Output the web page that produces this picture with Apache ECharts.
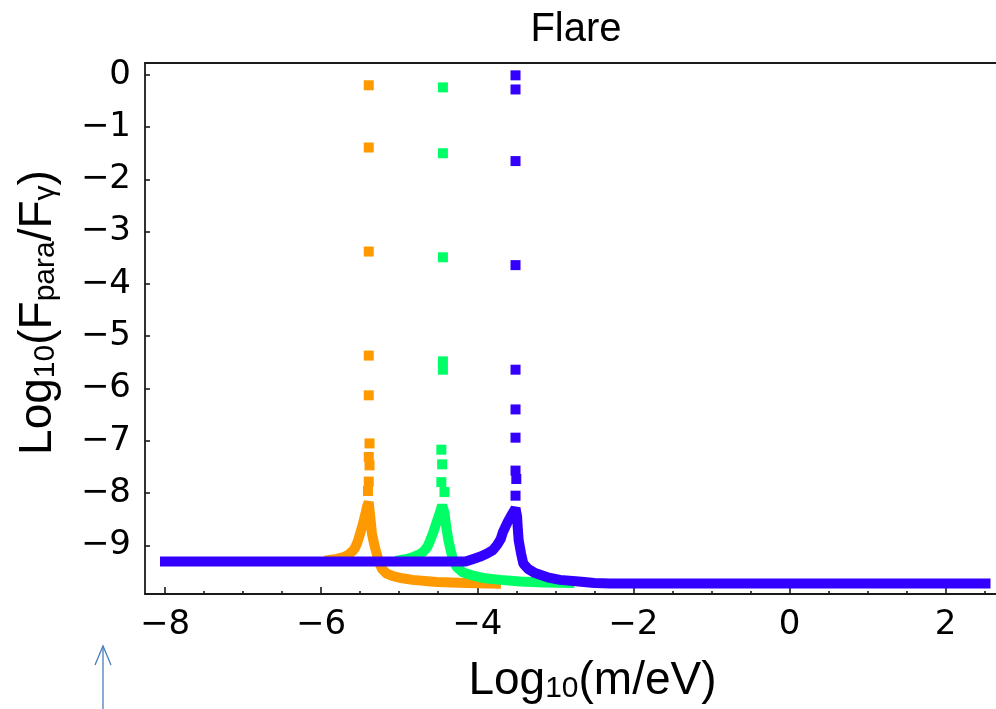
<!DOCTYPE html>
<html>
<head>
<meta charset="utf-8">
<script src="https://cdn.jsdelivr.net/npm/echarts@6/dist/echarts.min.js"></script>
<style>
  html, body { margin: 0; padding: 0; background: #fff; }
  #chart { width: 996px; height: 709px; }
</style>
</head>
<body>
<div id="chart"></div>
<script>
// ---- data ----
const xRange = [-8.256, 3.208];     // visible frame (right side cut off by the picture)
const xTickStart = -8;              // first labelled tick
const xTickEnd = 3;
const xMajorStep = 2;
const yRange = [-9.93, 0.226];
const yTicks = [0, -1, -2, -3, -4, -5, -6, -7, -8, -9];

// orange resonance (continuous band and isolated points)
const orangeBand = [
  [-5.89, -9.28], [-5.80, -9.26], [-5.72, -9.23], [-5.65, -9.18], [-5.59, -9.10], [-5.56, -9.03],
  [-5.53, -8.92], [-5.50, -8.77], [-5.47, -8.62], [-5.45, -8.50], [-5.43, -8.38], [-5.41, -8.25],
  [-5.39, -8.17], [-5.38, -8.33], [-5.36, -8.60], [-5.35, -8.77], [-5.32, -8.98], [-5.29, -9.15],
  [-5.26, -9.32], [-5.22, -9.45], [-5.16, -9.54], [-5.08, -9.59], [-4.96, -9.63], [-4.83, -9.66],
  [-4.52, -9.70], [-4.15, -9.72], [-3.76, -9.73]
];
const orangePoints = [
  [-5.39, -0.20], [-5.39, -1.39], [-5.39, -3.38], [-5.39, -5.37], [-5.39, -6.13],
  [-5.38, -7.05], [-5.39, -7.31], [-5.38, -7.47], [-5.39, -7.78], [-5.40, -7.96]
];

// green resonance
const greenBand = [
  [-4.98, -9.28], [-4.90, -9.26], [-4.82, -9.22], [-4.75, -9.18], [-4.69, -9.12], [-4.64, -9.03],
  [-4.61, -8.93], [-4.57, -8.78], [-4.53, -8.60], [-4.48, -8.38], [-4.45, -8.23], [-4.42, -8.38],
  [-4.40, -8.62], [-4.37, -8.90], [-4.34, -9.10], [-4.31, -9.28], [-4.26, -9.42], [-4.18, -9.52],
  [-4.05, -9.58], [-3.90, -9.63], [-3.70, -9.66], [-3.45, -9.69], [-3.15, -9.71], [-2.82, -9.72]
];
const greenPoints = [
  [-4.44, -0.24], [-4.44, -1.50], [-4.44, -3.49], [-4.44, -5.48], [-4.44, -5.64],
  [-4.46, -7.17], [-4.45, -7.45], [-4.46, -7.79], [-4.42, -7.98]
];

// blue resonance
const blueBand = [
  [-8.00, -9.31], [-4.15, -9.31], [-4.05, -9.26], [-3.95, -9.21], [-3.88, -9.16], [-3.80, -9.09],
  [-3.75, -9.00], [-3.70, -8.88], [-3.67, -8.74], [-3.61, -8.55], [-3.55, -8.39], [-3.51, -8.29],
  [-3.49, -8.45], [-3.48, -8.70], [-3.47, -8.90], [-3.44, -9.15], [-3.41, -9.35], [-3.35, -9.45],
  [-3.26, -9.53], [-3.10, -9.61], [-2.94, -9.66], [-2.70, -9.69], [-2.50, -9.72], [-2.30, -9.73],
  [2.51, -9.73]
];
const bluePoints = [
  [-3.51, -0.01], [-3.51, -0.28], [-3.51, -1.65], [-3.51, -3.64], [-3.51, -5.64],
  [-3.51, -6.40], [-3.51, -6.94], [-3.51, -7.57], [-3.50, -7.73], [-3.51, -8.05]
];

const colors = { orange: '#ff9900', green: '#00ff66', blue: '#3300ff' };

// ---- chart ----
const FONT = '"Liberation Sans", Arial, sans-serif';
const TICKFONT = '"DejaVu Sans", sans-serif';
const minus = v => (v < 0 ? '\u2212' + Math.abs(v) : String(v));
const SYM = 10;
const AX = '#1a1a1a';

// pixel layout
const PLOT_LEFT = 145, PLOT_TOP = 63, PLOT_BOTTOM = 115;
const PX_PER_UNIT = 78.07;
const plotWidth = (xRange[1] - xRange[0]) * PX_PER_UNIT;
const tickLeft = PLOT_LEFT + (xTickStart - xRange[0]) * PX_PER_UNIT;
const tickWidth = (xTickEnd - xTickStart) * PX_PER_UNIT;

function band(data, color) {
  return {
    type: 'line', data: data, showSymbol: false, silent: true,
    xAxisIndex: 0, yAxisIndex: 0,
    lineStyle: { color: color, width: SYM, cap: 'square', join: 'bevel', opacity: 1 },
    z: 2
  };
}
function pts(data, color) {
  return {
    type: 'scatter', data: data, symbol: 'rect', symbolSize: SYM, silent: true,
    xAxisIndex: 0, yAxisIndex: 0,
    itemStyle: { color: color, opacity: 1 }, z: 2
  };
}

const nameRich = {
  m: { fontSize: 46, fontFamily: FONT, color: '#000', lineHeight: 50 },
  s: { fontSize: 30, fontFamily: FONT, color: '#000', lineHeight: 30, padding: [16, 0, 0, 0] }
};

const chart = echarts.init(document.getElementById('chart'), null, { renderer: 'canvas' });
chart.setOption({
  animation: false,
  backgroundColor: '#fff',
  title: {
    text: 'Flare', left: 571, top: 5, textAlign: 'center',
    textStyle: { fontSize: 40, fontWeight: 'normal', fontFamily: FONT, color: '#000' }
  },
  grid: [
    { left: PLOT_LEFT, top: PLOT_TOP, width: plotWidth, bottom: PLOT_BOTTOM, outerBoundsMode: 'none', containLabel: false },
    { left: tickLeft, top: PLOT_TOP, width: tickWidth, bottom: PLOT_BOTTOM, outerBoundsMode: 'none', containLabel: false }
  ],
  xAxis: [
    {
      gridIndex: 0, type: 'value', min: xRange[0], max: xRange[1], position: 'bottom',
      axisLine: { show: true, onZero: false, lineStyle: { color: AX, width: 1.8 } },
      axisTick: { show: false }, axisLabel: { show: false }, splitLine: { show: false },
      name: '{m|Log}{s|10}{m|(m/eV)}', nameLocation: 'middle', nameGap: 62,
      nameTextStyle: { rich: nameRich }
    },
    {
      gridIndex: 0, type: 'value', min: xRange[0], max: xRange[1], position: 'top',
      axisLine: { show: true, onZero: false, lineStyle: { color: AX, width: 1.8 } },
      axisTick: { show: false }, axisLabel: { show: false }, splitLine: { show: false }
    },
    {
      gridIndex: 1, type: 'value', min: xTickStart, max: xTickEnd, interval: xMajorStep, position: 'bottom',
      axisLine: { show: false, onZero: false },
      axisTick: { show: true, inside: true, length: 7, lineStyle: { color: AX, width: 1.6 } },
      minorTick: { show: true, splitNumber: 4, length: 3, lineStyle: { color: AX, width: 1.6 } },
      axisLabel: {
        formatter: minus, margin: 14, showMaxLabel: false,
        fontSize: 34, fontFamily: TICKFONT, color: '#000'
      },
      splitLine: { show: false }
    }
  ],
  yAxis: [
    {
      gridIndex: 0, type: 'value', min: yRange[0], max: yRange[1],
      axisLine: { show: true, onZero: false, lineStyle: { color: AX, width: 1.8 } },
      axisTick: { show: true, inside: true, length: 5, customValues: yTicks, lineStyle: { color: AX, width: 1.6 } },
      axisLabel: {
        customValues: yTicks, formatter: minus, margin: 14,
        fontSize: 34, fontFamily: TICKFONT, color: '#000'
      },
      splitLine: { show: false },
      name: '{m|Log}{s|10}{m|(F}{s|para}{m|/F}{s|\u03b3}{m|)}',
      nameLocation: 'middle', nameGap: 82, nameRotate: 90,
      nameTextStyle: { rich: nameRich, padding: [0, 0, 0, 32] }
    },
    {
      gridIndex: 1, type: 'value', min: yRange[0], max: yRange[1], show: false
    }
  ],
  graphic: [
    {
      type: 'group', silent: true,
      children: [
        { type: 'line', shape: { x1: 103, y1: 709, x2: 103, y2: 646 }, style: { stroke: '#4a7ebb', lineWidth: 1.3 } },
        { type: 'polyline', shape: { points: [[95, 665], [103, 646], [111, 665]] }, style: { stroke: '#4a7ebb', lineWidth: 1.3, fill: null } }
      ]
    }
  ],
  series: [
    band(orangeBand, colors.orange), pts(orangePoints, colors.orange),
    band(greenBand, colors.green), pts(greenPoints, colors.green),
    band(blueBand, colors.blue), pts(bluePoints, colors.blue)
  ]
});
</script>
</body>
</html>
